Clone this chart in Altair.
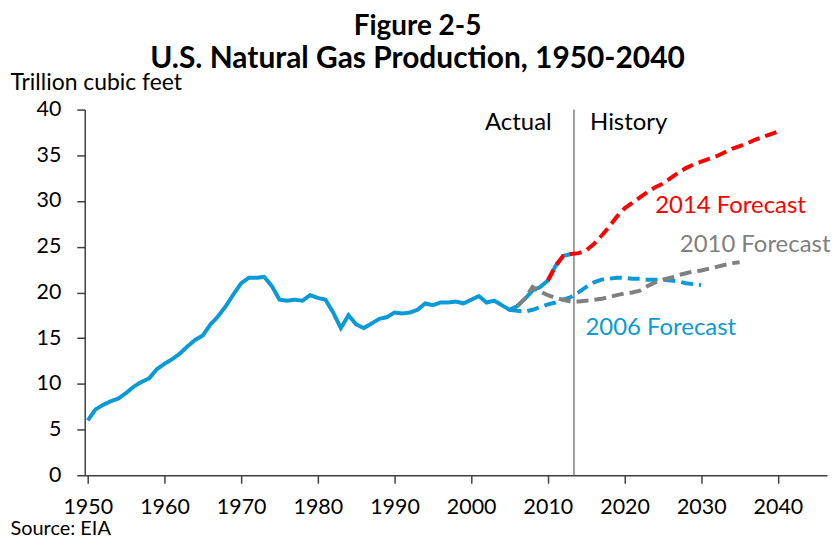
import altair as alt
import pandas as pd

title_lines = ["Figure 2-5", "U.S. Natural Gas Production, 1950-2040"]
y_title = "Trillion cubic feet"
source_note = "Source: EIA"

actual_years = list(range(1950, 2014))
actual_values = [6.0, 7.2, 7.7, 8.1, 8.4, 9.0, 9.7, 10.2, 10.6, 11.6,
                 12.2, 12.7, 13.3, 14.1, 14.8, 15.3, 16.5, 17.4, 18.5, 19.8,
                 21.0, 21.6, 21.6, 21.7, 20.7, 19.2, 19.1, 19.2, 19.1, 19.7,
                 19.4, 19.2, 17.8, 16.1, 17.5, 16.5, 16.1, 16.6, 17.1, 17.3,
                 17.8, 17.7, 17.8, 18.1, 18.8, 18.6, 18.9, 18.9, 19.0, 18.8,
                 19.2, 19.6, 18.9, 19.1, 18.6, 18.1, 18.5, 19.3, 20.2, 20.6,
                 21.3, 22.9, 24.0, 24.2]

f2006_years = list(range(2005, 2031))
f2006_values = [18.1, 18.0, 17.9, 18.1, 18.4, 18.7, 18.9, 19.2, 19.5, 20.0,
                20.6, 21.1, 21.4, 21.5, 21.6, 21.6, 21.5, 21.5, 21.4, 21.4,
                21.4, 21.3, 21.2, 21.0, 20.9, 20.8]

f2010_years = list(range(2006, 2036))
f2010_values = [18.5, 19.3, 20.6, 20.1, 19.7, 19.4, 19.2, 19.0, 19.0, 19.1,
                19.2, 19.3, 19.5, 19.7, 19.9, 20.0, 20.2, 20.7, 21.1, 21.4,
                21.6, 21.9, 22.1, 22.3, 22.4, 22.6, 22.8, 23.0, 23.2, 23.3]

f2014_years = list(range(2010, 2041))
f2014_values = [21.3, 22.9, 24.0, 24.2, 24.3, 24.6, 25.3, 26.2, 27.2, 28.3,
                29.2, 29.8, 30.4, 31.0, 31.5, 31.9, 32.5, 33.1, 33.6, 34.0,
                34.3, 34.6, 34.9, 35.3, 35.7, 36.0, 36.3, 36.7, 37.0, 37.3, 37.6]

series_names = ["Actual", "2006 Forecast", "2010 Forecast", "2014 Forecast"]
series_colors = ["#0a9ad7", "#0a9ad7", "#808080", "#ff0000"]

note_labels = ["Actual", "History", "2014 Forecast", "2010 Forecast", "2006 Forecast"]
note_years = [2001.8, 2015.5, 2024.0, 2027.2, 2014.9]
note_values = [38.5, 38.5, 29.5, 25.2, 16.1]
note_colors = ["#000000", "#000000", "#ff0000", "#808080", "#0a9ad7"]

divider_year = 2013.4

FONT = "Lato"

rows = []
for name, ys, vs in [("Actual", actual_years, actual_values),
                     ("2006 Forecast", f2006_years, f2006_values),
                     ("2010 Forecast", f2010_years, f2010_values),
                     ("2014 Forecast", f2014_years, f2014_values)]:
    for y, v in zip(ys, vs):
        rows.append({"series": name, "year": y, "value": v})
df = pd.DataFrame(rows)

notes = pd.DataFrame({"label": note_labels, "year": note_years,
                      "value": note_values, "color": note_colors})

x_scale = alt.Scale(domain=[1949.6, 2046.4], nice=False, zero=False)
y_scale = alt.Scale(domain=[0, 40], nice=False)

x_axis = alt.Axis(values=list(range(1950, 2041, 10)), format="d", grid=False,
                  labelFontSize=21.5, labelFont=FONT, labelColor="#000000",
                  labelPadding=13, labelFlush=False, tickSize=8, tickColor="#404040",
                  tickWidth=1.5, domainColor="#404040", domainWidth=1.5,
                  title=source_note, titleFont=FONT, titleFontSize=20,
                  titleFontWeight="normal", titleColor="#000000",
                  titleAnchor="start", titleAlign="left", titleBaseline="alphabetic",
                  titleX=-75, titleY=59)
y_axis = alt.Axis(values=list(range(0, 41, 5)), grid=False,
                  labelFontSize=21.5, labelFont=FONT, labelColor="#000000",
                  labelPadding=16, tickSize=8, tickColor="#404040", tickWidth=1.5,
                  domainColor="#404040", domainWidth=1.5,
                  title=y_title, titleFont=FONT, titleFontSize=23,
                  titleFontWeight="normal", titleColor="#000000", titleAngle=0,
                  titleAlign="left", titleBaseline="middle", titleX=-75, titleY=-27)

lines = alt.Chart(df).mark_line(strokeWidth=4).encode(
    x=alt.X("year:Q", scale=x_scale, axis=x_axis),
    y=alt.Y("value:Q", scale=y_scale, axis=y_axis),
    color=alt.Color("series:N", scale=alt.Scale(domain=series_names, range=series_colors), legend=None),
    strokeDash=alt.StrokeDash("series:N", scale=alt.Scale(domain=series_names,
                              range=[[1, 0], [12, 6], [12, 6], [12, 6]]), legend=None),
    detail="series:N",
    order=alt.Order("year:Q"),
)

divider = alt.Chart(pd.DataFrame({"year": [divider_year], "lo": [0], "hi": [40]})).mark_rule(
    color="#808080", strokeWidth=1.5).encode(
    x=alt.X("year:Q", scale=x_scale), y=alt.Y("lo:Q", scale=y_scale), y2="hi:Q")

texts = alt.Chart(notes).mark_text(align="left", baseline="middle", fontSize=24, font=FONT).encode(
    x=alt.X("year:Q", scale=x_scale),
    y=alt.Y("value:Q", scale=y_scale),
    text="label:N",
    color=alt.Color("color:N", scale=None),
)

title1 = alt.Chart(pd.DataFrame({"t": [title_lines[0]]})).mark_text(
    font=FONT, fontSize=28, fontWeight="bold", color="#000000", align="center", baseline="middle"
).encode(text="t:N", x=alt.value(334), y=alt.value(-83))
title2 = alt.Chart(pd.DataFrame({"t": [title_lines[1]]})).mark_text(
    font=FONT, fontSize=30, fontWeight="bold", color="#000000", align="center", baseline="middle"
).encode(text="t:N", x=alt.value(334), y=alt.value(-51))

chart = alt.layer(divider, lines, texts, title1, title2).properties(
    width=745, height=367,
    autosize=alt.AutoSizeParams(type="none"),
    padding={"left": 77, "top": 101, "right": 4, "bottom": 63},
).configure_view(stroke=None)

chart.save("out.html", embed_options={"renderer": "svg", "actions": False})
